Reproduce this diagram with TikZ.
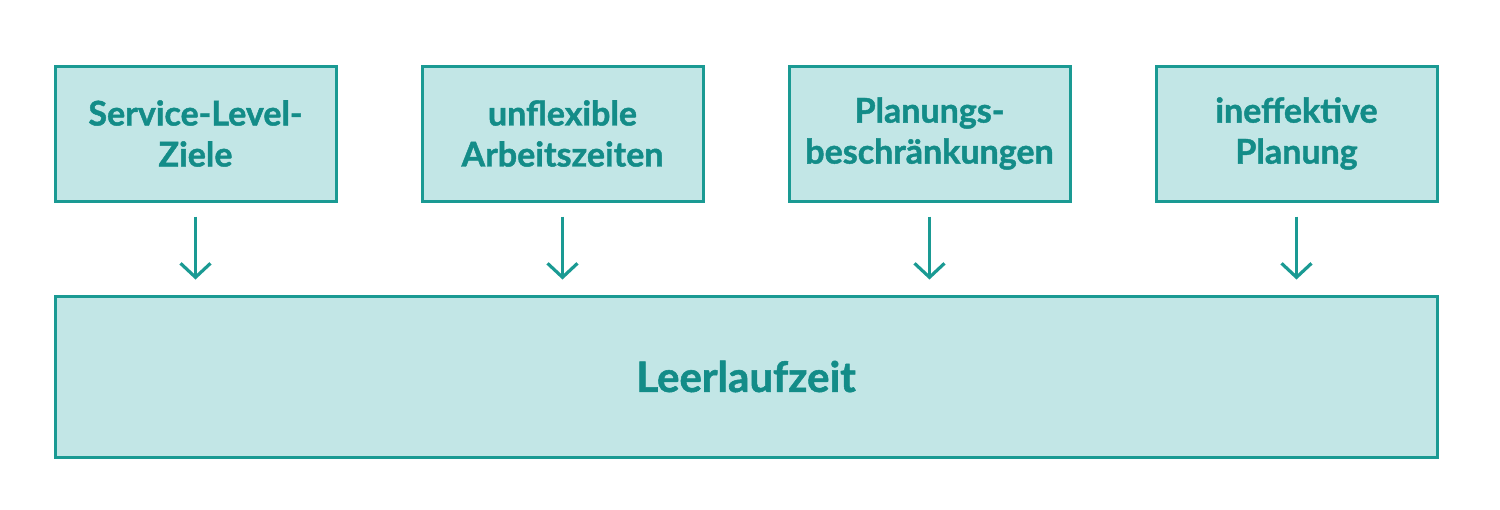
\documentclass[tikz,border=0pt]{standalone}
\usepackage{fontspec}
\setmainfont{Lato}[BoldFont={* Bold}, BoldFeatures={FakeBold=1.3}]
\usetikzlibrary{arrows.meta}
\definecolor{teal1}{HTML}{1A9A93}
\definecolor{tealtext}{HTML}{138C88}
\definecolor{fill1}{HTML}{C2E6E6}
\begin{document}
\begin{tikzpicture}[x=1pt,y=-1pt,
  cause/.style={draw=teal1, fill=fill1, line width=3pt, minimum width=281pt, minimum height=135pt,
    inner sep=0pt, align=center, text=tealtext, font=\fontsize{34}{41}\selectfont\bfseries},
  effect/.style={draw=teal1, fill=fill1, line width=3pt, minimum width=1382pt, minimum height=161pt,
    inner sep=0pt, text=tealtext, font=\fontsize{42}{50}\selectfont\bfseries},
  arr/.style={draw=teal1, line width=3.2pt, -{Straight Barb[length=14pt,width=30pt,line width=3.2pt]},
    shorten <=14pt, shorten >=15pt}]
\useasboundingbox (0,0) rectangle (1500,509);
\node[cause] (b1) at (195.5,133.5) {Service-Level-\\Ziele};
\node[cause] (b2) at (562.5,133.5) {unflexible\\Arbeitszeiten};
\node[cause] (b3) at (929.5,133.5) {Planungs-\\beschränkungen};
\node[cause] (b4) at (1296.5,133.5) {ineffektive\\Planung};
\node[effect] (e) at (746,376.5) {Leerlaufzeit\hspace{8pt}};
\foreach \b in {b1,b2,b3,b4}
  \draw[arr] (\b.south) -- (\b.south |- e.north);
\end{tikzpicture}
\end{document}
